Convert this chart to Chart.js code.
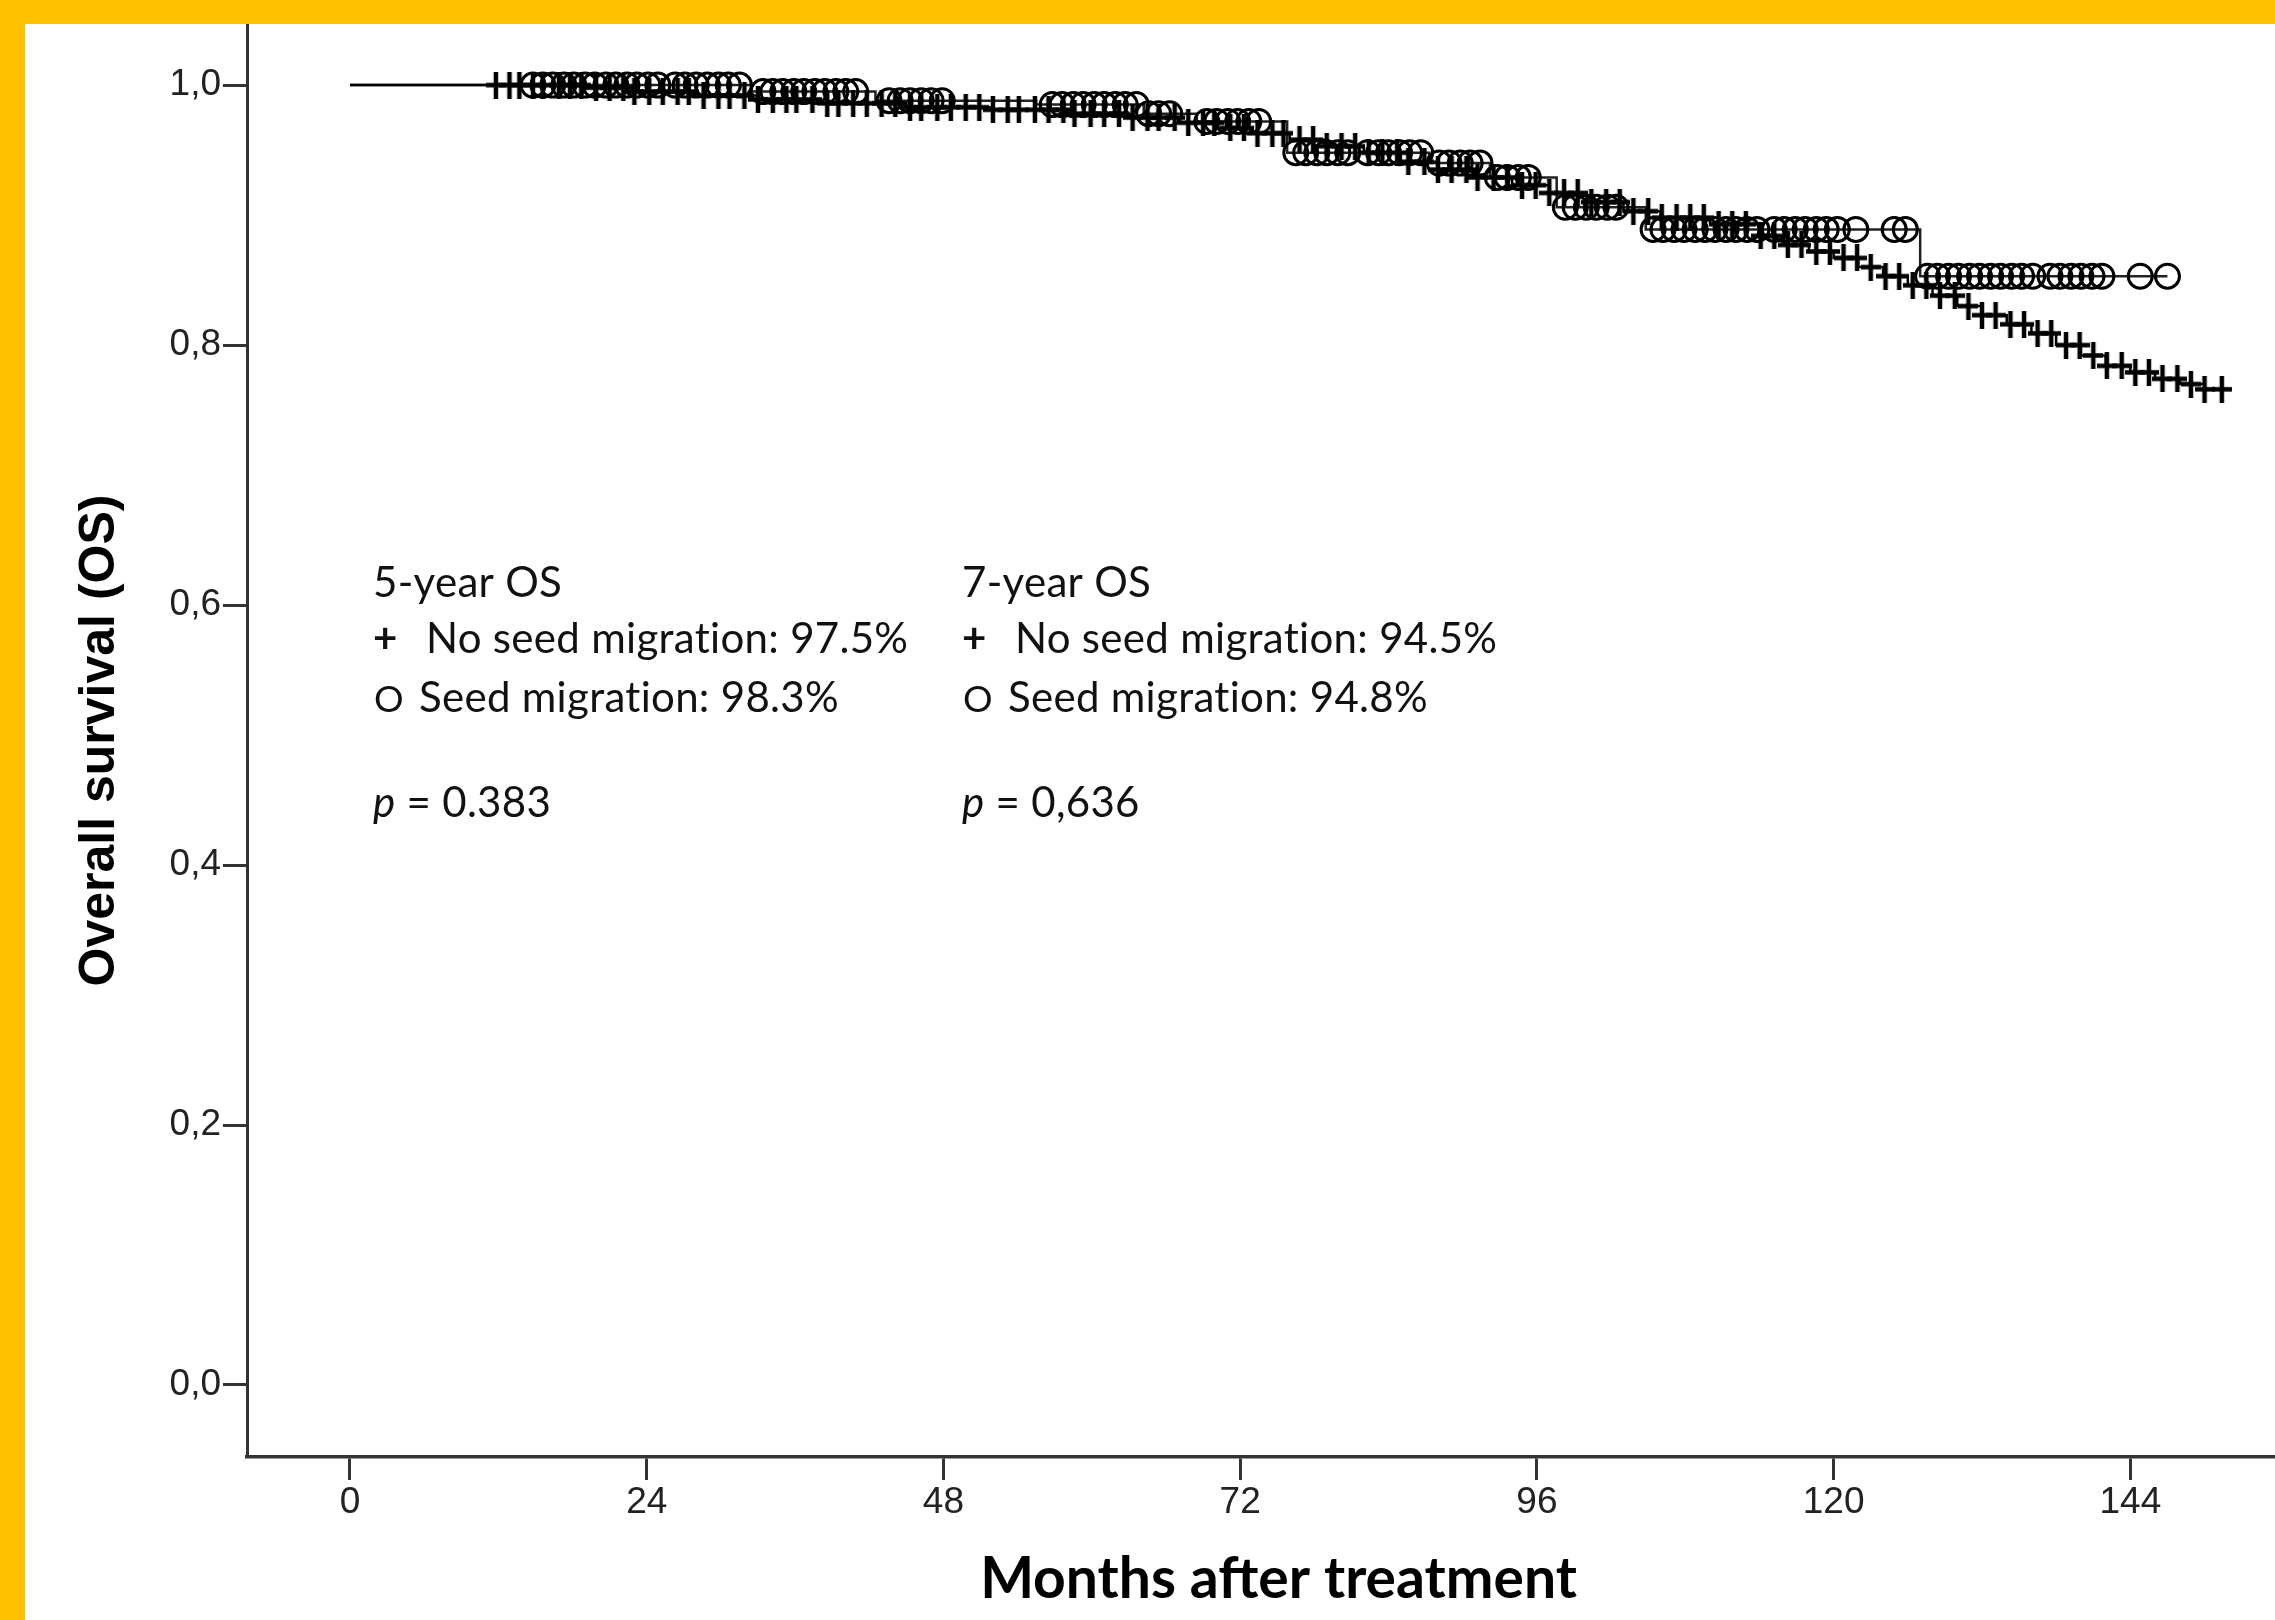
<!DOCTYPE html>
<html>
<head>
<meta charset="utf-8">
<script src="https://cdn.jsdelivr.net/npm/chart.js@4.4.1/dist/chart.umd.min.js"></script>
<style>
  html, body { margin: 0; padding: 0; background: #FFC000; overflow: hidden; }
  body { padding: 24px 0 0 25px; }
  #frame { width: 2250px; height: 1596px; background: #ffffff; }
  canvas { display: block; }
</style>
</head>
<body>
<div id="frame"><canvas id="osChart" width="2250" height="1596"></canvas></div>
<script>
/* ─── Axis ticks ─────────────────────────────────── */
const xTickValues = [0, 24, 48, 72, 96, 120, 144];
const yTickValues = [0, 0.2, 0.4, 0.6, 0.8, 1.0];

/* ─── No seed migration (+) ──────────────────────── */
// step times (months) and survival after each step
const noMigStepTimes = [0, 19, 23, 28, 33, 38, 45, 52, 58, 63, 67, 70, 73, 76, 79, 82, 85, 88, 91, 94,
  97, 100, 103, 106, 110, 114, 116, 118, 120, 122, 124, 126, 128, 130, 132, 134, 136, 138, 140, 142,
  144, 146, 148, 150];
const noMigStepSurv = [1.0, 0.998, 0.995, 0.992, 0.989, 0.986, 0.983, 0.981, 0.978, 0.975, 0.971, 0.967,
  0.963, 0.958, 0.953, 0.948, 0.941, 0.935, 0.929, 0.923, 0.917, 0.910, 0.903, 0.898, 0.893, 0.884,
  0.877, 0.872, 0.867, 0.860, 0.853, 0.846, 0.838, 0.830, 0.823, 0.816, 0.809, 0.800, 0.792, 0.784,
  0.779, 0.774, 0.770, 0.766];
const noMigEnd = 151.4;
const noMigCensor = [11.8, 12.9, 13.7, 14.8, 15.6, 16.9, 17.8, 18.7, 19.9, 21.0, 22.1, 23.0, 24.2, 25.3,
  26.5, 27.4, 28.6, 29.8, 30.7, 31.9, 33.0, 34.2, 35.3, 36.1, 37.4, 38.6, 39.5, 40.7, 41.8, 43.0, 44.1,
  45.3, 46.2, 47.5, 48.6, 49.8, 50.9, 52.0, 53.2, 54.1, 55.4, 56.5, 57.7, 58.6, 59.9, 61.0, 62.2, 63.3,
  64.5, 65.4, 66.7, 67.8, 69.0, 69.9, 71.2, 72.3, 73.4, 74.6, 75.5, 76.8, 77.9, 79.0, 80.2, 81.3, 82.4,
  83.5, 84.7, 85.6, 86.9, 88.0, 89.1, 90.3, 91.2, 92.5, 93.6, 94.8, 95.9, 97.0, 98.2, 99.3, 100.4, 101.6,
  102.7, 103.8, 105.0, 106.1, 107.3, 108.4, 109.5, 110.7, 111.8, 112.9, 114.1, 115.2, 116.3, 117.4,
  118.6, 119.7, 120.8, 121.9, 123.0, 124.2, 125.3, 126.4, 127.5, 128.6, 129.8, 130.9, 132.0, 133.1,
  134.3, 135.4, 136.5, 137.6, 138.8, 139.9, 141.0, 142.1, 143.3, 144.4, 145.5, 146.6, 147.8, 148.9,
  150.0, 151.4];

/* ─── Seed migration (O) ─────────────────────────── */
const migStepTimes = [0, 32.5, 42.5, 55.5, 64.2, 68.5, 75.8, 87.3, 92.2, 97.6, 104.8, 127.0];
const migStepSurv  = [1.0, 0.995, 0.988, 0.985, 0.978, 0.972, 0.948, 0.940, 0.929, 0.906, 0.889, 0.853];
const migEnd = 147.0;
const migCensor = [14.8, 15.6, 16.4, 17.3, 18.1, 19.0, 19.8, 20.7, 21.5, 22.4, 23.2, 24.1, 24.9,
  26.3, 27.1, 28.0, 28.9, 29.8, 30.6, 31.5,
  33.4, 34.2, 35.0, 35.9, 36.7, 37.6, 38.4, 39.3, 40.1, 40.9,
  43.6, 44.5, 45.3, 46.2, 47.0, 47.9,
  56.8, 57.6, 58.5, 59.3, 60.2, 61.0, 61.9, 62.7, 63.6, 64.6, 65.4, 66.3,
  69.3, 70.1, 71.0, 71.8, 72.7, 73.5,
  76.5, 77.3, 78.2, 79.0, 79.9, 80.7, 82.3, 83.2, 84.0, 84.9, 85.7, 86.6,
  88.1, 88.9, 89.8, 90.6, 91.4, 92.8, 93.6, 94.5, 95.3,
  98.3, 99.1, 100.0, 100.8, 101.7, 102.4,
  105.4, 106.2, 107.1, 107.9, 108.8, 109.6, 110.4, 111.3, 112.1, 113.0, 113.8,
  115.2, 116.0, 116.9, 117.7, 118.6, 119.4, 120.3, 121.8, 124.9, 125.8,
  127.6, 128.4, 129.3, 130.1, 131.0, 131.8, 132.7, 133.5, 134.4, 135.2, 136.1,
  137.5, 138.3, 139.2, 140.0, 140.9, 141.7, 144.8, 147.0];

/* ─── Annotation text ────────────────────────────── */
const statColumns = [
  { head: '5-year OS', noMig: 'No seed migration: 97.5%', mig: 'Seed migration: 98.3%', p: '0.383' },
  { head: '7-year OS', noMig: 'No seed migration: 94.5%', mig: 'Seed migration: 94.8%', p: '0,636' }
];

/* ─── Kaplan-Meier helpers ───────────────────────── */
function survivalAt(times, surv, t) {
  let s = surv[0];
  for (let i = 0; i < times.length; i++) if (times[i] <= t) s = surv[i];
  return s;
}
function stepLine(times, surv, end) {
  const pts = times.map((t, i) => ({ x: t, y: surv[i] }));
  pts.push({ x: end, y: surv[surv.length - 1] });
  return pts;
}
function censorPoints(times, surv, censor) {
  return censor.map(t => ({ x: t, y: survivalAt(times, surv, t) }));
}

// SPSS-style censor "+" : a bit taller than wide
function plusMarker(w, h, lw) {
  const c = document.createElement('canvas');
  c.width = w; c.height = h;
  const g = c.getContext('2d');
  g.strokeStyle = '#000';
  g.lineWidth = lw;
  g.beginPath();
  g.moveTo(w / 2, 0); g.lineTo(w / 2, h);
  g.moveTo(0, h / 2); g.lineTo(w, h / 2);
  g.stroke();
  return c;
}

/* ─── Text plugin: stats block + x title ─────────── */
const textPlugin = {
  id: 'osText',
  afterDraw(chart) {
    const { ctx, scales: { x, y } } = chart;
    ctx.save();
    ctx.fillStyle = '#111';
    ctx.textBaseline = 'alphabetic';
    ctx.textAlign = 'left';
    ctx.letterSpacing = '0.3px';   // keeps "ti" from turning into a ligature
    const colMonths = [1.86, 49.5];
    const rowVals = [0.606, 0.563, 0.518, 0.437];
    statColumns.forEach((c, i) => {
      const cx = x.getPixelForValue(colMonths[i]);
      ctx.font = '42px Lato';
      ctx.fillText(c.head, cx, y.getPixelForValue(rowVals[0]));
      ctx.font = 'bold 42px Lato';
      ctx.fillText('+', cx, y.getPixelForValue(rowVals[1]));
      ctx.font = '42px Lato';
      ctx.fillText(c.noMig, cx + 53, y.getPixelForValue(rowVals[1]));
      ctx.font = '37px Lato';
      ctx.fillText('O', cx + 1, y.getPixelForValue(rowVals[2]));
      ctx.font = '42px Lato';
      ctx.fillText(c.mig, cx + 46, y.getPixelForValue(rowVals[2]));
      const py = y.getPixelForValue(rowVals[3]);
      ctx.font = 'italic 42px Lato';
      ctx.fillText('p', cx, py);
      const pw = ctx.measureText('p').width;
      ctx.font = '42px Lato';
      ctx.fillText(' = ' + c.p, cx + pw, py);
    });
    // x axis title
    ctx.letterSpacing = '0px';
    ctx.font = 'bold 57px Lato';
    ctx.textAlign = 'center';
    ctx.fillStyle = '#000';
    ctx.fillText('Months after treatment', x.getPixelForValue(75.1), chart.height - 22);
    ctx.restore();
  }
};

/* ─── Chart ──────────────────────────────────────── */
const tickFont = { family: "'Liberation Sans', Arial, sans-serif", size: 37 };
const axisColor = '#333';

new Chart(document.getElementById('osChart').getContext('2d'), {
  type: 'scatter',
  data: {
    datasets: [
      {
        label: 'No seed migration (censored)',
        data: censorPoints(noMigStepTimes, noMigStepSurv, noMigCensor),
        showLine: false,
        pointStyle: plusMarker(20, 27, 4.5),
        pointRadius: 13,
        borderColor: '#000'
      },
      {
        label: 'Seed migration (censored)',
        data: censorPoints(migStepTimes, migStepSurv, migCensor),
        showLine: false,
        pointStyle: 'circle',
        pointRadius: 12,
        pointBorderWidth: 3,
        pointBackgroundColor: 'rgba(0,0,0,0)',
        pointBorderColor: '#000'
      },
      {
        label: 'No seed migration',
        data: stepLine(noMigStepTimes, noMigStepSurv, noMigEnd),
        showLine: true,
        stepped: true,
        borderColor: '#000',
        borderWidth: 2.5,
        pointRadius: 0
      },
      {
        label: 'Seed migration',
        data: stepLine(migStepTimes, migStepSurv, migEnd),
        showLine: true,
        stepped: true,
        borderColor: '#222',
        borderWidth: 2.5,
        pointRadius: 0
      }
    ]
  },
  options: {
    responsive: false,
    animation: false,
    events: [],
    layout: { padding: 0, autoPadding: false },
    plugins: {
      legend: { display: false },
      tooltip: { enabled: false }
    },
    scales: {
      x: {
        type: 'linear',
        min: -8.33,
        max: 155.7,
        afterBuildTicks: s => { s.ticks = xTickValues.map(v => ({ value: v })); },
        afterFit: s => { s.height = 163; s.paddingLeft = 0; s.paddingRight = 0; },
        ticks: { font: tickFont, color: '#222', padding: 1, maxRotation: 0 },
        grid: { display: true, drawOnChartArea: false, drawTicks: true, tickLength: 23,
                tickColor: axisColor, tickWidth: 3 },
        border: { display: true, color: axisColor, width: 3.5 }
      },
      y: {
        type: 'linear',
        min: -0.0554,
        max: 1.047,
        afterBuildTicks: s => { s.ticks = yTickValues.map(v => ({ value: v })); },
        afterFit: s => { s.width = 222; s.paddingTop = 0; s.paddingBottom = 0; },
        ticks: {
          font: tickFont, color: '#222', padding: 2,
          callback: v => v.toFixed(1).replace('.', ',')
        },
        grid: { display: true, drawOnChartArea: false, drawTicks: true, tickLength: 24,
                tickColor: axisColor, tickWidth: 3 },
        border: { display: true, color: axisColor, width: 3 },
        title: {
          display: true,
          text: 'Overall survival (OS)',
          color: '#000',
          font: { family: "'Liberation Sans', Arial, sans-serif", size: 50, weight: 'bold' },
          padding: { top: 45, bottom: 0 }
        }
      }
    }
  },
  plugins: [textPlugin]
});
</script>
</body>
</html>
